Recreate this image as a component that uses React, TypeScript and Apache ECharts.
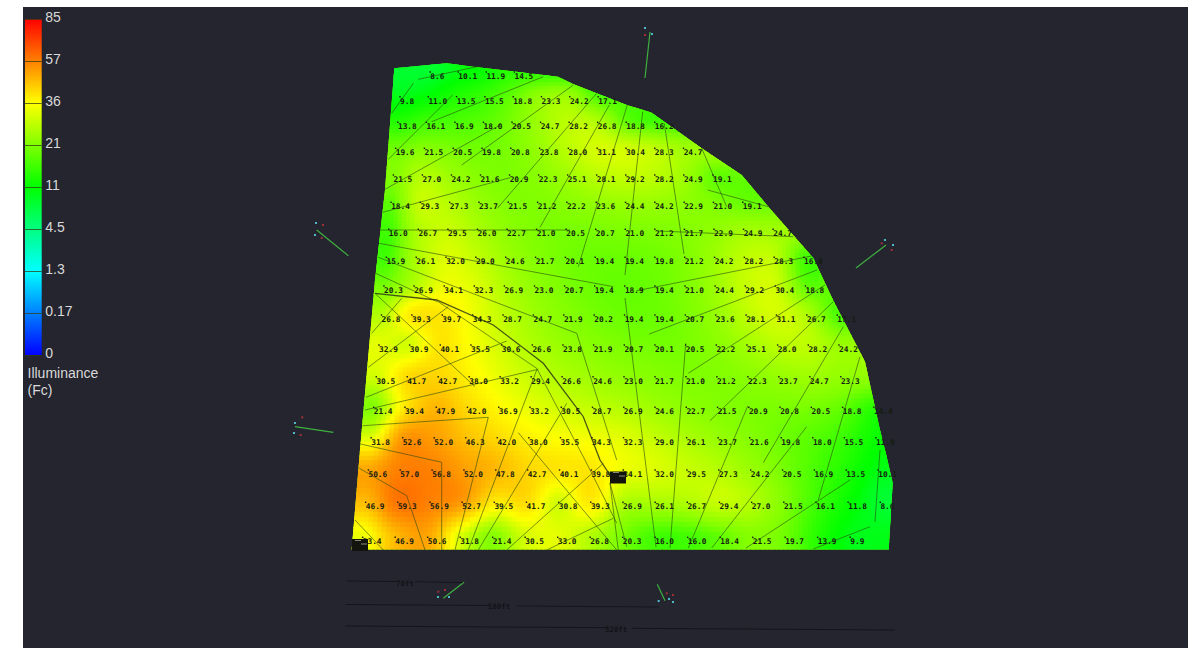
import React, { useEffect, useRef } from "react";
import * as echarts from "echarts";

// ---- colour scale ----
const legendTicks = ["0", "0.17", "1.3", "4.5", "11", "21", "36", "57", "85"];
const legendValues = [0, 0.17, 1.3, 4.5, 11, 21, 36, 57, 85];
const legendColors = ["#0000ff", "#0080ff", "#00ffff", "#00ff80", "#00ff00", "#80ff00", "#ffff00", "#ff8000", "#ff0000"];

// ---- measured illuminance, row by row (first entry of each row sits in column rowStart[i]) ----
const rowStart = [1, 0, 0, 0, 0, 0, 0, 0, 0, 0, 0, 0, 0, 0, 0, 0, 0];
const rowLevels = [72, 96.7, 122.3, 148.3, 175, 202.3, 229.3, 257.3, 286, 315, 345, 376.7, 407.3, 437.7, 470, 502.3, 537.3];
const r0 = ["8.6", "10.1", "11.9", "14.5"];
const r1 = ["9.8", "11.0", "13.5", "15.5", "18.8", "23.3", "24.2", "17.1"];
const r2 = ["13.8", "16.1", "16.9", "18.0", "20.5", "24.7", "28.2", "26.8", "18.8", "16.2"];
const r3 = ["19.6", "21.5", "20.5", "19.8", "20.8", "23.8", "28.0", "31.1", "30.4", "28.3", "24.7"];
const r4 = ["21.5", "27.0", "24.2", "21.6", "20.9", "22.3", "25.1", "28.1", "29.2", "28.2", "24.9", "19.1"];
const r5 = ["18.4", "29.3", "27.3", "23.7", "21.5", "21.2", "22.2", "23.6", "24.4", "24.2", "22.9", "21.0", "19.1"];
const r6 = ["16.0", "26.7", "29.5", "26.0", "22.7", "21.0", "20.5", "20.7", "21.0", "21.2", "21.7", "22.9", "24.9", "24.7"];
const r7 = ["15.9", "26.1", "32.0", "29.0", "24.6", "21.7", "20.1", "19.4", "19.4", "19.8", "21.2", "24.2", "28.2", "28.3", "16.8"];
const r8 = ["20.3", "26.9", "34.1", "32.3", "26.9", "23.0", "20.7", "19.4", "18.9", "19.4", "21.0", "24.4", "29.2", "30.4", "18.8"];
const r9 = ["26.8", "39.3", "39.7", "34.3", "28.7", "24.7", "21.9", "20.2", "19.4", "19.4", "20.7", "23.6", "28.1", "31.1", "26.7", "17.1"];
const r10 = ["32.9", "30.9", "40.1", "35.5", "30.6", "26.6", "23.8", "21.9", "20.7", "20.1", "20.5", "22.2", "25.1", "28.0", "28.2", "24.2"];
const r11 = ["30.5", "41.7", "42.7", "38.0", "33.2", "29.4", "26.6", "24.6", "23.0", "21.7", "21.0", "21.2", "22.3", "23.7", "24.7", "23.3"];
const r12 = ["21.4", "39.4", "47.9", "42.0", "36.9", "33.2", "30.5", "28.7", "26.9", "24.6", "22.7", "21.5", "20.9", "20.8", "20.5", "18.8", "14.4"];
const r13 = ["31.8", "52.6", "52.0", "46.3", "42.0", "38.0", "35.5", "34.3", "32.3", "29.0", "26.1", "23.7", "21.6", "19.8", "18.0", "15.5", "11.9"];
const r14 = ["50.6", "57.0", "56.8", "52.0", "47.8", "42.7", "40.1", "39.8", "34.1", "32.0", "29.5", "27.3", "24.2", "20.5", "16.9", "13.5", "10.1"];
const r15 = ["46.9", "59.3", "56.9", "52.7", "39.5", "41.7", "30.8", "39.3", "26.9", "26.1", "26.7", "29.4", "27.0", "21.5", "16.1", "11.8", "8.6"];
const r16 = ["33.4", "46.9", "50.6", "31.8", "21.4", "30.5", "33.0", "26.8", "20.3", "16.0", "16.0", "18.4", "21.5", "19.7", "13.9", "9.9"];
const rows = [r0, r1, r2, r3, r4, r5, r6, r7, r8, r9, r10, r11, r12, r13, r14, r15, r16];

// ---- site outline and overlays, in the scene's own coordinates ----
const siteOutline = [
  [394.3, 68.3], [446.7, 63.3], [473, 66.7], [558, 76.7], [573, 84], [626.7, 105], [640, 109], [651.7, 112.7],
  [701.7, 148.3], [741.7, 175], [768.3, 206.7], [813.3, 258], [833, 300], [865, 361.7], [880, 430], [886.7, 456.7],
  [892.7, 483], [888.7, 549.5], [351.7, 549.5], [360, 450], [375, 280], [385, 190],
];
const beamPaths = [
  [[391.7, 113.3], [413.3, 83.3]], [[418.3, 79.3], [480, 66]], [[388.3, 159.3], [452.7, 95]], [[431.7, 121.7], [543.3, 76.7]],
  [[385, 189.3], [500, 125]], [[461.7, 165], [573.3, 85]], [[382.7, 212.3], [510, 177.7]], [[497.3, 208.3], [596.7, 93.3]],
  [[540, 227.3], [609.3, 105]], [[380, 230], [570, 230]], [[578.3, 266.7], [627.3, 105]], [[625, 275], [642.7, 111.7]],
  [[379.3, 243.3], [613.3, 286.7]], [[378.3, 257.3], [576.7, 333.3], [616.7, 460]],
  [[375, 273], [438, 302]], [[438.3, 301.7], [536.7, 368.3], [585, 460], [616.7, 523]], [[375, 293.3], [475, 386.7]],
  [[371.7, 333.3], [401.7, 298.3]], [[368.3, 367.3], [448.3, 306.7]], [[366, 397.3], [506.7, 341]], [[365, 410], [538.3, 369.3]],
  [[362.7, 425.7], [488.3, 417.3], [455, 550]], [[360.7, 444], [441.7, 462.3], [441.7, 550]], [[359.3, 468.3], [406.7, 495.7], [425, 550]],
  [[536.7, 370], [468.3, 550]], [[566.7, 403.3], [478.3, 550]], [[518.3, 432.7], [616.7, 550]], [[506.7, 550], [603.3, 463.3]],
  [[546.7, 550], [613.3, 518.3]], [[610, 483], [618.3, 550]], [[610, 483], [626.7, 546.7]], [[355, 520], [383.3, 550]],
  [[670, 548], [685.7, 343.3]], [[688.3, 548], [747.7, 406]], [[711.7, 548], [806.7, 426.7]], [[746, 548], [850, 480]],
  [[818.3, 500], [860, 356.7]], [[763.3, 462.7], [843.3, 326.7]], [[813.3, 549], [870, 526.7]], [[875, 521.7], [880, 450]],
  [[710, 420.7], [833.3, 301.7]], [[688.3, 373.3], [825, 285]], [[649.3, 334], [817, 270]], [[636.7, 290.7], [811.7, 256]],
  [[658.3, 231], [793.3, 236.7]], [[707.7, 190], [768.3, 206.7]], [[701.7, 148.3], [726.7, 206.7]], [[664.3, 123.3], [684, 254]],
  [[625, 298], [656, 547]],
];
const heavyPath = [[375, 293.3], [436.7, 300], [493.3, 325], [543.3, 363.3], [583.3, 416.7], [600, 460], [613.3, 480]];
const poleArms = [
  [[645, 78], [650, 32]], [[348.3, 255.7], [316.7, 230]], [[333.3, 432.3], [295, 426.7]],
  [[856, 268], [886, 245]], [[443.3, 598.3], [464, 582.3]], [[657.3, 584.3], [665, 600.7]],
];
const poleRed = [[645, 35], [323, 225], [321.7, 238], [302.3, 417.3], [300.7, 435], [881.7, 243.3], [891.7, 250], [438.3, 591.7], [445, 590], [666.7, 593.3], [673, 595]];
const poleCyan = [[645, 28], [652, 34], [316, 223], [315, 235], [295, 423], [294, 433], [885, 240], [893, 245], [438, 597], [449, 597], [658.7, 601], [669, 599], [673, 602]];
const dimensionLines = [
  [[347, 581], [397, 581.5]], [[415, 581.7], [463, 582.7]],
  [[346, 604.5], [490, 605.5]], [[516.7, 606], [659, 607]],
  [[345, 626], [606.7, 627.7]], [[631.7, 628.3], [895, 630]],
];
const dimensionLabels = [
  { value: [405, 583], name: "70ft" },
  { value: [499, 606.7], name: "180ft" },
  { value: [616, 629], name: "320ft" },
];
const fixtures = [[618, 477.5], [360, 545]];
const fixtureHighlights = [[616, 472.5], [622, 476], [358, 540.5], [364, 544]];

// ---- helpers ----
const nums = rows.map((r) => r.map(Number));
const colCount = 18;
const lattice: number[][] = nums.map((r, i) =>
  Array.from({ length: colCount }, (_, j) => {
    const k = Math.min(r.length - 1, Math.max(0, j - rowStart[i]));
    return r[k];
  })
);
const rowAt = (i: number) => {
  if (i < 0) return rowLevels[0] + i * 26;
  if (i > 16) return rowLevels[16] + (i - 16) * 35;
  return rowLevels[i];
};
const project = (i: number, j: number): number[] => {
  const a = Math.floor(i);
  const y = rowAt(a) + (rowAt(a + 1) - rowAt(a)) * (i - a);
  return [400 - 0.0847 * (y - 96.7) + j * (28.3 + 0.00953 * (y - 96.7)), y];
};
// smooth (Catmull-Rom) reading of the measured lattice, used only for painting the field
const cr = (t: number) => [
  ((2 - t) * t - 1) * t / 2,
  ((3 * t - 5) * t * t + 2) / 2,
  ((4 - 3 * t) * t + 1) * t / 2,
  ((t - 1) * t * t) / 2,
];
const clampI = (i: number) => Math.max(0, Math.min(16, i));
const clampJ = (j: number) => Math.max(0, Math.min(colCount - 1, j));
const latticeAt = (i: number, j: number) => {
  const ci = clampI(i), cj = clampJ(j);
  const i0 = Math.floor(ci), j0 = Math.floor(cj);
  const wi = cr(ci - i0), wj = cr(cj - j0);
  let sum = 0;
  for (let a = 0; a < 4; a++)
    for (let b = 0; b < 4; b++) sum += wi[a] * wj[b] * lattice[clampI(i0 + a - 1)][clampJ(j0 + b - 1)];
  return Math.max(0, sum);
};
const colorOf = (value: number) => {
  let k = 0;
  while (k < legendValues.length - 2 && value > legendValues[k + 1]) k++;
  const level = k + (value - legendValues[k]) / (legendValues[k + 1] - legendValues[k]);
  return echarts.color.lerp(Math.min(1, level / (legendValues.length - 1)), legendColors) as string;
};
const inside = (p: number[], poly: number[][]) => {
  let hit = false;
  for (let a = 0, b = poly.length - 1; a < poly.length; b = a++) {
    const [xa, ya] = poly[a], [xb, yb] = poly[b];
    if (ya > p[1] !== yb > p[1] && p[0] < ((xb - xa) * (p[1] - ya)) / (yb - ya) + xa) hit = !hit;
  }
  return hit;
};

const SUB = 7;
const renderCell = (_: any, api: any) => {
  const ci = api.value(0), cj = api.value(1);
  const children: any[] = [];
  for (let a = 0; a < SUB; a++) {
    for (let b = 0; b < SUB; b++) {
      const i0 = ci + a / SUB, i1 = ci + (a + 1) / SUB;
      const j0 = cj + b / SUB, j1 = cj + (b + 1) / SUB;
      const pts = [project(i0, j0), project(i0, j1), project(i1, j1), project(i1, j0)];
      const centre = project((i0 + i1) / 2, (j0 + j1) / 2);
      if (!pts.some((p) => inside(p, siteOutline)) && !inside(centre, siteOutline)) continue;
      const fill = colorOf(latticeAt((i0 + i1) / 2, (j0 + j1) / 2));
      children.push({
        type: "polygon",
        shape: { points: pts.map((p) => api.coord(p)) },
        style: { fill, stroke: fill, lineWidth: 0.9 },
      });
    }
  }
  return {
    type: "group",
    clipPath: { type: "polygon", shape: { points: siteOutline.map((p) => api.coord(p)) } },
    children,
  };
};
const renderBase = (_: any, api: any) => ({
  type: "polygon",
  shape: { points: siteOutline.map((p) => api.coord(p)) },
  style: { fill: legendColors[5] },
});

const cellData: number[][] = [];
for (let i = -1; i <= 16; i++) for (let j = -1; j < colCount; j++) cellData.push([i, j]);

const sampleData: any[] = [];
rows.forEach((r, i) =>
  r.forEach((txt, k) => {
    const p = project(i, k + rowStart[i]);
    sampleData.push({ value: [p[0], p[1]], name: txt });
  })
);

const hiddenValueAxis = (min: number, max: number, extra: any = {}) => ({
  type: "value", min, max, show: false, ...extra,
});

export default function App() {
  const ref = useRef<HTMLDivElement>(null);
  useEffect(() => {
    document.body.style.margin = "0";
    const chart = echarts.init(ref.current!, null, { renderer: "svg" });
    chart.setOption({
      animation: false,
      backgroundColor: "#ffffff",
      grid: [
        { left: 0, top: 0, width: 1200, height: 661 },
        { left: 25, top: 19, width: 16.7, height: 336 },
      ],
      xAxis: [
        hiddenValueAxis(0, 1200, { gridIndex: 0 }),
        { gridIndex: 1, type: "category", data: ["scale"], show: false },
      ],
      yAxis: [
        hiddenValueAxis(0, 661, { gridIndex: 0, inverse: true }),
        {
          gridIndex: 1,
          type: "value",
          min: 0,
          max: legendTicks.length - 1,
          interval: 1,
          position: "right",
          z: 6,
          axisLine: { show: false },
          splitLine: { show: false },
          axisTick: { show: true, inside: true, length: 16.7, lineStyle: { color: "rgba(50,60,20,0.75)", width: 1 } },
          axisLabel: {
            margin: 3.5,
            color: "#d9d9d9",
            fontFamily: "Liberation Sans",
            fontSize: 14,
            verticalAlign: "bottom",
            lineHeight: 4,
            formatter: (v: number) => legendTicks[v],
          },
        },
      ],
      graphic: [
        { type: "rect", z: 0, shape: { x: 23, y: 7, width: 1165, height: 641 }, style: { fill: "#24252f" } },
        {
          type: "text", z: 5, x: 27.5, y: 365,
          style: { text: "Illuminance\n(Fc)", fill: "#d9d9d9", font: "14px 'Liberation Sans'", lineHeight: 16.5 },
        },
      ],
      series: [
        {
          type: "bar", xAxisIndex: 1, yAxisIndex: 1, barWidth: "100%", silent: true, z: 3,
          data: [legendTicks.length - 1],
          itemStyle: {
            color: new echarts.graphic.LinearGradient(0, 1, 0, 0,
              legendColors.map((c, k) => ({ offset: k / (legendColors.length - 1), color: c }))),
          },
        },
        {
          type: "custom", coordinateSystem: "cartesian2d", xAxisIndex: 0, yAxisIndex: 0,
          data: [[0, 0]], renderItem: renderBase, silent: true, clip: false, z: 2,
        },
        {
          type: "custom", coordinateSystem: "cartesian2d", xAxisIndex: 0, yAxisIndex: 0,
          data: cellData, renderItem: renderCell, silent: true, clip: false, z: 3,
        },
        {
          type: "lines", coordinateSystem: "cartesian2d", xAxisIndex: 0, yAxisIndex: 0, polyline: true, silent: true, z: 4,
          data: beamPaths.map((coords) => ({ coords })),
          lineStyle: { color: "#2a4a10", width: 0.8, opacity: 0.75 },
        },
        {
          type: "lines", coordinateSystem: "cartesian2d", xAxisIndex: 0, yAxisIndex: 0, polyline: true, silent: true, z: 4,
          data: [{ coords: heavyPath }],
          lineStyle: { color: "#2f3a18", width: 1.3, opacity: 0.85 },
        },
        {
          type: "lines", coordinateSystem: "cartesian2d", xAxisIndex: 0, yAxisIndex: 0, polyline: true, silent: true, z: 4,
          data: poleArms.map((coords) => ({ coords })),
          lineStyle: { color: "#3fb03f", width: 1.2, opacity: 1 },
        },
        {
          type: "lines", coordinateSystem: "cartesian2d", xAxisIndex: 0, yAxisIndex: 0, polyline: true, silent: true, z: 4,
          data: dimensionLines.map((coords) => ({ coords })),
          lineStyle: { color: "#101118", width: 0.9, opacity: 0.9 },
        },
        {
          type: "scatter", xAxisIndex: 0, yAxisIndex: 0, silent: true, z: 4, symbol: "rect", symbolSize: 2,
          data: poleRed, itemStyle: { color: "#a03038", opacity: 1 },
        },
        {
          type: "scatter", xAxisIndex: 0, yAxisIndex: 0, silent: true, z: 4, symbol: "rect", symbolSize: 2,
          data: poleCyan, itemStyle: { color: "#4fb8c8", opacity: 1 },
        },
        {
          type: "scatter", xAxisIndex: 0, yAxisIndex: 0, silent: true, z: 5, symbol: "rect", symbolSize: 1.4,
          data: sampleData,
          itemStyle: { color: "#1c1c1c", opacity: 1 },
          label: {
            show: true, position: [0.8, 5.2], align: "left", verticalAlign: "middle",
            formatter: (p: any) => p.name,
            color: "#161c10",
            fontFamily: "DejaVu Sans Mono",
            fontWeight: "bold",
            fontSize: 7.8,
          },
          labelLayout: { hideOverlap: false },
        },
        {
          type: "scatter", xAxisIndex: 0, yAxisIndex: 0, silent: true, z: 6, symbol: "rect", symbolSize: 0.1,
          data: dimensionLabels,
          itemStyle: { color: "transparent" },
          label: {
            show: true, position: "inside", formatter: (p: any) => p.name,
            color: "#0c0d12", fontFamily: "DejaVu Sans Mono", fontWeight: "bold", fontSize: 7.5,
          },
        },
        {
          type: "scatter", xAxisIndex: 0, yAxisIndex: 0, silent: true, z: 6, symbol: "rect", symbolSize: [16, 12],
          data: fixtures, itemStyle: { color: "#14140f", opacity: 1 },
        },
        {
          type: "scatter", xAxisIndex: 0, yAxisIndex: 0, silent: true, z: 7, symbol: "rect", symbolSize: [6, 1],
          data: fixtureHighlights, itemStyle: { color: "#8a8a78", opacity: 1 },
        },
      ],
    });
    return () => chart.dispose();
  }, []);
  return <div ref={ref} style={{ width: 1200, height: 661, overflow: "hidden" }} />;
}
